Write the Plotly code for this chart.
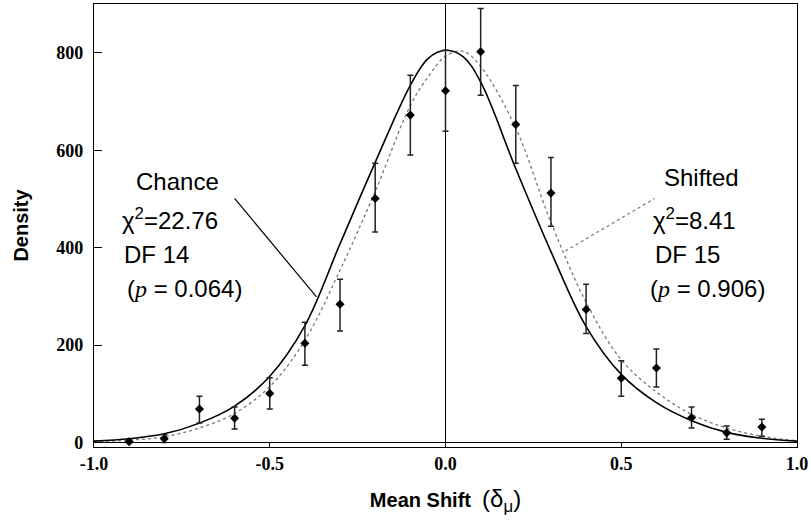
import plotly.graph_objects as go

# ---- data ----
curve_x = [-1.0, -0.9, -0.8, -0.7, -0.6, -0.5, -0.4, -0.3, -0.2, -0.1, -0.05, 0.0,
           0.05, 0.1, 0.2, 0.3, 0.4, 0.5, 0.6, 0.7, 0.8, 0.9, 1.0]
chance_y = [3, 8, 18, 40, 75, 136, 240, 408, 575, 733, 788, 805,
            792, 740, 562, 392, 238, 140, 82, 45, 21, 9, 3]
shifted_y = [2, 5, 12, 30, 60, 115, 210, 354, 515, 692, 750, 793,
             803, 772, 645, 452, 288, 170, 104, 58, 30, 13, 4]

obs_x = [-0.9, -0.8, -0.7, -0.6, -0.5, -0.4, -0.3, -0.2, -0.1, 0.0,
         0.1, 0.2, 0.3, 0.4, 0.5, 0.6, 0.7, 0.8, 0.9]
obs_y = [2, 8, 69, 50, 101, 204, 284, 501, 672, 722,
         802, 653, 512, 273, 132, 153, 51, 20, 32]
err_plus = [3, 8, 26, 23, 32, 43, 51, 72, 82, 83,
            89, 80, 73, 52, 36, 39, 22, 14, 16]
err_minus = [2, 8, 29, 22, 32, 45, 55, 69, 82, 83,
             89, 80, 68, 49, 37, 39, 21, 13, 19]

x_ticks = [-1.0, -0.5, 0.0, 0.5, 1.0]
x_tick_text = ["-1.0", "-0.5", "0.0", "0.5", "1.0"]
y_ticks = [0, 200, 400, 600, 800]

fig = go.Figure()
fig.add_trace(go.Scatter(x=curve_x, y=shifted_y, mode="lines", line_shape="spline",
                         line=dict(color="#777777", width=1.3, dash="dot"),
                         showlegend=False, hoverinfo="skip"))
fig.add_trace(go.Scatter(x=curve_x, y=chance_y, mode="lines", line_shape="spline",
                         line=dict(color="black", width=1.6),
                         showlegend=False, hoverinfo="skip"))
fig.add_trace(go.Scatter(x=obs_x, y=obs_y, mode="markers",
                         marker=dict(symbol="diamond", size=7, color="black"),
                         error_y=dict(type="data", array=err_plus, arrayminus=err_minus,
                                      color="#222222", thickness=1.5, width=3),
                         showlegend=False))

serif = "Liberation Serif, Times New Roman, serif"
sans = "Liberation Sans, Arial, sans-serif"

# pointer lines
fig.add_shape(type="line", x0=-0.6, y0=501, x1=-0.367, y1=299,
              line=dict(color="black", width=1.2))
fig.add_shape(type="line", x0=0.341, y0=393, x1=0.595, y1=501,
              line=dict(color="#777777", width=1.2, dash="dot"))

pstyle = "<span style='font-family:Liberation Serif'><i>p</i></span>"
ann = [
    ("Chance", -0.885, 536),
    ("χ<sup>2</sup>=22.76", -0.927, 458),
    ("DF 14", -0.919, 385),
    ("(" + pstyle + " = 0.064)", -0.913, 317),
    ("Shifted", 0.617, 543),
    ("χ<sup>2</sup>=8.41", 0.586, 458),
    ("DF 15", 0.589, 385),
    ("(" + pstyle + " = 0.906)", 0.575, 317),
]
for t, ax, ay in ann:
    fig.add_annotation(x=ax, y=ay, text=t, showarrow=False, xanchor="left",
                       yanchor="middle", font=dict(family=sans, size=24, color="black"))

fig.update_layout(
    width=811, height=524,
    margin=dict(l=94, r=14, t=4, b=77),
    plot_bgcolor="white", paper_bgcolor="white",
    xaxis=dict(range=[-1.0, 1.0], tickvals=x_ticks, ticktext=x_tick_text,
               ticks="inside", ticklen=5, tickcolor="black",
               showline=True, mirror=True, linecolor="black", linewidth=1.2,
               showgrid=False, zeroline=True, zerolinecolor="black", zerolinewidth=1,
               tickfont=dict(family=serif, size=18, color="black", weight="bold"),
               title=dict(text="<b>Mean Shift</b>  <span style='font-size:24px'>(δ<sub>μ</sub>)</span>",
                          standoff=20,
                          font=dict(family=sans, size=20, color="black"))),
    yaxis=dict(range=[-9, 900], tickvals=y_ticks,
               ticks="inside", ticklen=8, tickcolor="black",
               showline=True, mirror=True, linecolor="black", linewidth=1.2,
               showgrid=False, zeroline=True, zerolinecolor="black", zerolinewidth=1,
               tickfont=dict(family=serif, size=18, color="black", weight="bold"),
               ticklabelstandoff=6,
               title=dict(text="<b>Density</b>", standoff=22,
                          font=dict(family=sans, size=20, color="black"))),
)

fig.write_html("out.html")
